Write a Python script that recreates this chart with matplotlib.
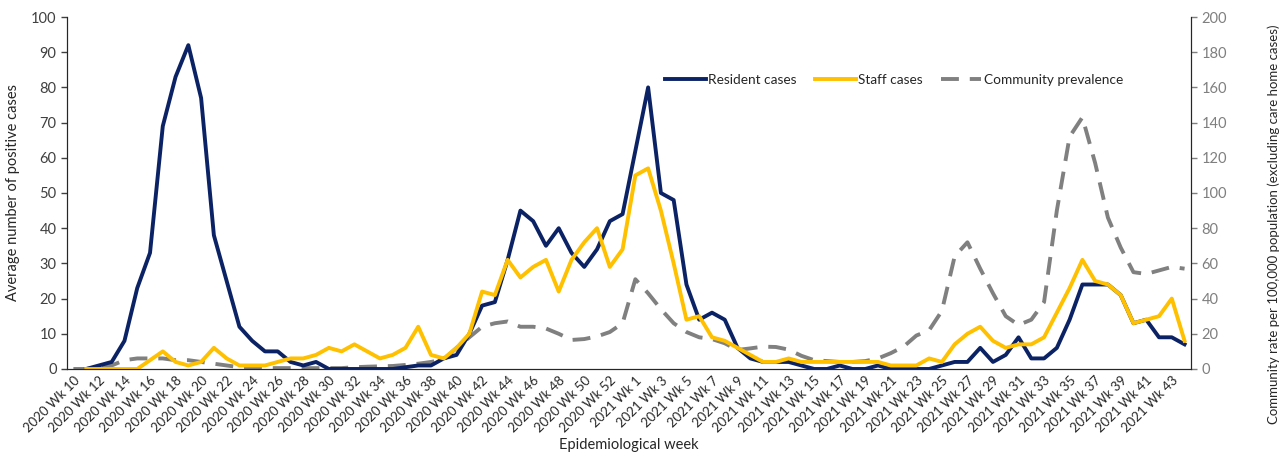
import numpy as np
import matplotlib
matplotlib.use("Agg")
import matplotlib.pyplot as plt

plt.rcParams['font.family'] = ['Lato', 'DejaVu Sans']

weeks = ["2020 Wk %d" % w for w in range(10, 54)] + ["2021 Wk %d" % w for w in range(1, 45)]

nan = np.nan
resident = [nan, 0, 1, 2, 8, 23, 33, 69, 83, 92, 77, 38, 25, 12, 8, 5, 5, 2, 1, 2,
            0, 0, 0, 0, 0, 0, 0.5, 1, 1, 3, 4, 10, 18, 19, 31, 45, 42, 35, 40, 33,
            29, 34, 42, 44, 62, 80, 50, 48, 24, 14, 16, 14, 6, 3, 2, 2, 2, 1, 0, 0,
            1, 0, 0, 1, 0, 0, 0, 0, 1, 2, 2, 6, 2, 4, 9, 3, 3, 6, 14, 24,
            24, 24, 21, 13, 14, 9, 9, 7]
staff = [nan, 0, 0, 0, 0, 0, 2.5, 5, 2, 1, 2, 6, 3, 1, 1, 1, 2, 3, 3, 4,
         6, 5, 7, 5, 3, 4, 6, 12, 4, 3, 6, 10, 22, 21, 31, 26, 29, 31, 22, 31,
         36, 40, 29, 34, 55, 57, 45, 30, 14, 15, 9, 8, 6, 4, 2, 2, 3, 2, 2, 2,
         2, 2, 2, 2, 1, 1, 1, 3, 2, 7, 10, 12, 8, 6, 7, 7, 9, 16, 23, 31,
         25, 24, 21, 13, 14, 15, 20, 8]
community = [0, 0, 1, 2, 5, 6, 6, 6, 5, 5, 4, 3, 2, 1, 1, 0.5, 0.5, 0.5, 0.5, 0.5,
             0.5, 0.5, 1, 1.3, 1.5, 1.7, 2.3, 3, 4, 5.5, 12, 18, 24, 26, 27, 24, 24, 23, 20, 16.5,
             17, 18.5, 21, 26, 51, 43, 34, 26, 21, 18, 17, 14.6, 10.8, 11.7, 12.7, 12.5, 11, 7.5, 5, 4.5,
             4, 4, 4.5, 6, 9, 12.7, 19, 22, 33, 64, 72, 57, 43, 30, 25, 28, 38, 90, 132, 143,
             117, 86, 69, 55, 54, 56, 58, 57]

x = np.arange(len(weeks))

fig = plt.figure(figsize=(12.81, 4.61), dpi=100)
ax = fig.add_axes([0.0523, 0.1996, 0.8774, 0.7635])
ax2 = ax.twinx()

navy = '#0B2265'
gold = '#FFC000'
grey = '#808080'

ax2.plot(x, community, color=grey, lw=2.8, dashes=(4.6, 2.8), label='Community prevalence')
l1, = ax.plot(x, resident, color=navy, lw=2.8, label='Resident cases')
l2, = ax.plot(x, staff, color=gold, lw=2.8, label='Staff cases')
ax.set_zorder(ax2.get_zorder() + 1)
ax.patch.set_visible(False)

ax.set_xlim(-0.5, len(weeks) - 0.5)
ax.set_ylim(0, 100)
ax2.set_ylim(0, 200)
ax.set_yticks(np.arange(0, 101, 10))
ax2.set_yticks(np.arange(0, 201, 20))

ax.set_xticks(x[::2])
ax.set_xticklabels(weeks[::2], rotation=45, ha='right', rotation_mode='anchor', fontsize=9.5, color='#262626')
ax.tick_params(axis='x', length=0, pad=4)
ax.tick_params(axis='y', labelsize=10.5, colors='#404040', length=4, width=1)
ax2.tick_params(axis='y', labelsize=10.5, colors='#7f7f7f', length=4, width=1)

for a in (ax, ax2):
    a.spines['top'].set_visible(False)
    a.spines['left'].set_color('#262626')
    a.spines['right'].set_color('#262626')
    a.spines['bottom'].set_color('#262626')

ax.set_xlabel('Epidemiological week', fontsize=10.5, color='#262626', labelpad=2)
ax.set_ylabel('Average number of positive cases', fontsize=10.5, color='#262626', labelpad=8)
ax2.set_ylabel('Community rate per 100,000 population (excluding care home cases)', fontsize=9.5,
               color='#262626')
ax2.yaxis.set_label_coords(1.068, 0.41)

handles = [l1, l2, ax2.get_lines()[0]]
ax.legend(handles, [h.get_label() for h in handles], ncol=3, frameon=False, fontsize=9.8,
          loc='center left', bbox_to_anchor=(0.532, 0.822), borderaxespad=0, borderpad=0,
          handlelength=3.0, handletextpad=0.2, columnspacing=1.3, labelcolor='#262626')

fig.savefig('out.png', dpi=100)
